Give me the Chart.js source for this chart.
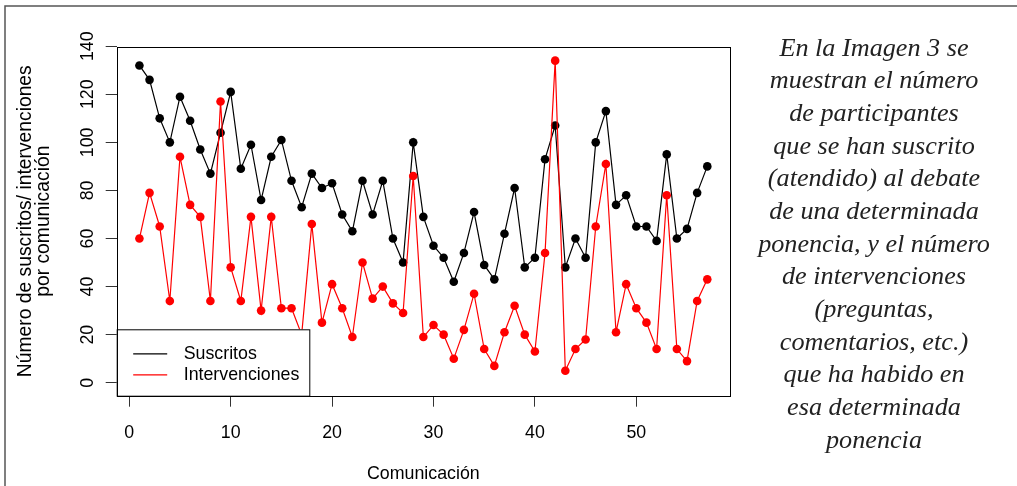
<!DOCTYPE html>
<html lang="es">
<head>
<meta charset="utf-8">
<title>Suscritos e intervenciones por comunicación</title>
<script src="https://cdn.jsdelivr.net/npm/chart.js@4.4.1/dist/chart.umd.min.js"></script>
<style>
  html, body { margin: 0; padding: 0; background: #fff; }
  #wrap { position: relative; width: 1017px; height: 486px; overflow: hidden; }
  #chart-box { position: absolute; left: 0; top: 0; width: 1017px; height: 486px; }
  #note {
    position: absolute; left: 734px; top: 31.5px; width: 280px;
    font-family: 'Liberation Serif', 'Times New Roman', serif;
    font-style: italic; font-size: 26.2px; line-height: 32.67px;
    color: #222; text-align: center;
  }
</style>
</head>
<body>
<div id="wrap">
  <div id="chart-box"><canvas id="chart"></canvas></div>
  <div id="note">
    En la Imagen 3 se<br>muestran el número<br>de participantes<br>que se han suscrito<br>(atendido) al debate<br>de una determinada<br>ponencia, y el número<br>de intervenciones<br>(preguntas,<br>comentarios, etc.)<br>que ha habido en<br>esa determinada<br>ponencia
  </div>
</div>
<script>
'use strict';

/* ── Data ─────────────────────────────────────────────────────────── */
const comunicaciones = Array.from({ length: 57 }, (_, i) => i + 1);

const suscritos = [
  132, 126, 110, 100, 119, 109, 97, 87, 104, 121,
  89, 99, 76, 94, 101, 84, 73, 87, 81, 83,
  70, 63, 84, 70, 84, 60, 50, 100, 69, 57,
  52, 42, 54, 71, 49, 43, 62, 81, 48, 52,
  93, 107, 48, 60, 52, 100, 113, 74, 78, 65,
  65, 59, 95, 60, 64, 79, 90,
];

const intervenciones = [
  60, 79, 65, 34, 94, 74, 69, 34, 117, 48,
  34, 69, 30, 69, 31, 31, 20, 66, 25, 41,
  31, 19, 50, 35, 40, 33, 29, 86, 19, 24,
  20, 10, 22, 37, 14, 7, 21, 32, 20, 13,
  54, 134, 5, 14, 18, 65, 91, 21, 41, 31,
  25, 14, 78, 14, 9, 34, 43,
];

const xTicks = [0, 10, 20, 30, 40, 50];
const yTicks = [0, 20, 40, 60, 80, 100, 120, 140];

const seriesLabels = ['Suscritos', 'Intervenciones'];
const xTitle = 'Comunicación';
const yTitle = ['Número de suscritos/ intervenciones', 'por comunicación'];

/* ── Style ────────────────────────────────────────────────────────── */
const FONT = "'Liberation Sans', Arial, sans-serif";
const FS   = 17.8;
const INK  = '#000';
const RED  = '#ff0000';

const toPoints = vals => vals.map((v, i) => ({ x: comunicaciones[i], y: v }));

/* ── Frame, rotated y labels, legend ─────────────────────────────── */
const rPlot = {
  id: 'rPlot',
  afterDatasetsDraw(chart) {
    const { ctx, chartArea: a } = chart;
    // legend box (bottom-left, opaque)
    const lw = 192.6, lh = 66.4;
    const lx = a.left, ly = a.bottom - lh;
    ctx.save();
    ctx.fillStyle = '#fff';
    ctx.fillRect(lx, ly, lw, lh);
    ctx.strokeStyle = INK;
    ctx.lineWidth = 1;
    ctx.strokeRect(lx + 0.5, ly + 0.5, lw, lh);
    const colors = [INK, RED];
    seriesLabels.forEach((lab, i) => {
      const yy = ly + 24.5 + i * 21;
      ctx.strokeStyle = colors[i];
      ctx.lineWidth = 1.2;
      ctx.beginPath();
      ctx.moveTo(lx + 16.5, yy);
      ctx.lineTo(lx + 50.5, yy);
      ctx.stroke();
      ctx.fillStyle = INK;
      ctx.font = `${FS}px ${FONT}`;
      ctx.textBaseline = 'middle';
      ctx.textAlign = 'left';
      ctx.fillText(lab, lx + 67, yy);
    });
    ctx.restore();
  },
  afterDraw(chart) {
    const { ctx, chartArea: a, scales } = chart;
    ctx.save();
    // plot box
    ctx.strokeStyle = INK;
    ctx.lineWidth = 1;
    ctx.strokeRect(Math.round(a.left) + 0.5, Math.round(a.top) + 0.5,
                   Math.round(a.right - a.left), Math.round(a.bottom - a.top));
    // y tick labels, vertical like R's default
    ctx.fillStyle = INK;
    ctx.font = `${FS}px ${FONT}`;
    ctx.textAlign = 'center';
    ctx.textBaseline = 'middle';
    yTicks.forEach(v => {
      const py = scales.y.getPixelForValue(v);
      ctx.save();
      ctx.translate(88, py);
      ctx.rotate(-Math.PI / 2);
      ctx.fillText(String(v), 0, 0);
      ctx.restore();
    });
    // outer page frame
    ctx.strokeStyle = '#555';
    ctx.lineWidth = 1.5;
    ctx.beginPath();
    ctx.moveTo(5, 486);
    ctx.lineTo(5, 6);
    ctx.lineTo(1017, 6);
    ctx.stroke();
    ctx.restore();
  },
};

/* ── Chart ────────────────────────────────────────────────────────── */
const tickFont = { family: FONT, size: FS };

new Chart(document.getElementById('chart'), {
  type: 'line',
  data: {
    datasets: [
      {
        label: seriesLabels[0],
        data: toPoints(suscritos),
        borderColor: INK,
        backgroundColor: INK,
        borderWidth: 1.2,
        pointRadius: 4.3,
        pointBorderWidth: 0,
        pointBackgroundColor: INK,
        tension: 0,
        order: 2,
      },
      {
        label: seriesLabels[1],
        data: toPoints(intervenciones),
        borderColor: RED,
        backgroundColor: RED,
        borderWidth: 1.2,
        pointRadius: 4.3,
        pointBorderWidth: 0,
        pointBackgroundColor: RED,
        tension: 0,
        order: 1,
      },
    ],
  },
  options: {
    responsive: true,
    maintainAspectRatio: false,
    animation: false,
    events: [],
    layout: { padding: { top: 46.7, right: 287, left: 0, bottom: 0 } },
    plugins: {
      legend: { display: false },
      tooltip: { enabled: false },
    },
    scales: {
      x: {
        type: 'linear',
        min: -1.24,
        max: 59.24,
        afterBuildTicks: s => { s.ticks = xTicks.map(v => ({ value: v })); },
        afterFit: s => { s.height = 90.3; },
        border: { display: false },
        grid: { drawOnChartArea: false, drawTicks: true, tickLength: 11, color: '#333', lineWidth: 1 },
        ticks: { color: INK, font: tickFont, padding: 15.5, maxRotation: 0, autoSkip: false },
        title: { display: true, text: xTitle, color: INK, font: tickFont, padding: { top: 0, bottom: 1.2 } },
      },
      y: {
        type: 'linear',
        min: -5.4,
        max: 139.8,
        afterBuildTicks: s => { s.ticks = yTicks.map(v => ({ value: v })); },
        afterFit: s => { s.width = 116.7; },
        border: { display: false },
        grid: { drawOnChartArea: false, drawTicks: true, tickLength: 11, color: '#333', lineWidth: 1 },
        ticks: { display: false },
        title: {
          display: true, text: yTitle, color: INK,
          font: { family: FONT, size: 19.3, lineHeight: 0.95 },
          padding: { top: 16.5, bottom: 0 },
        },
      },
    },
  },
  plugins: [rPlot],
});
</script>
</body>
</html>
